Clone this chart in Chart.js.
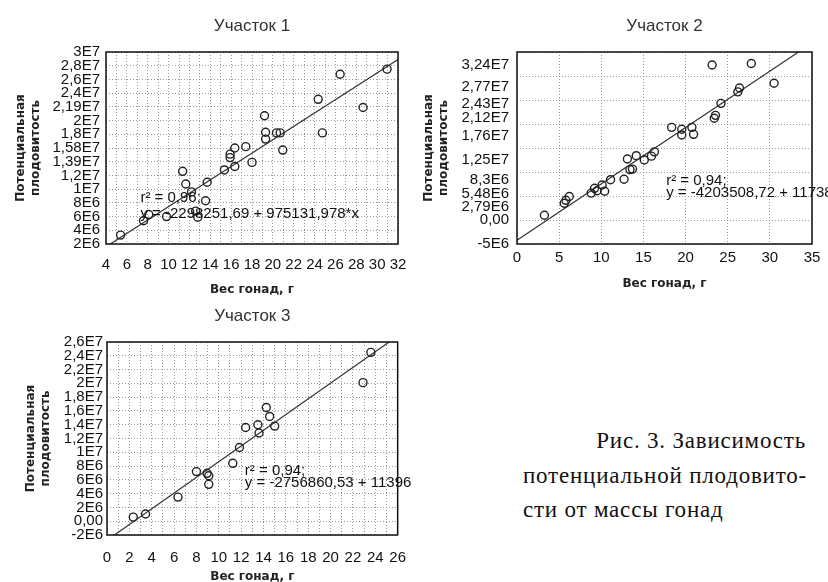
<!DOCTYPE html>
<html>
<head>
<meta charset="utf-8">
<script src="https://cdn.jsdelivr.net/npm/chart.js@4.4.1/dist/chart.umd.min.js"></script>
<style>
  body { margin: 0; background: #fff; width: 828px; height: 582px; position: relative; overflow: hidden; }
  canvas { position: absolute; }
  .cap { position: absolute; font-family: "Liberation Serif", "Times New Roman", serif; font-size: 23px; line-height: 26px; letter-spacing: 0.8px; color: #111; white-space: nowrap; }
</style>
</head>
<body>
<canvas id="c1" width="420" height="300" style="left:0;top:0"></canvas>
<canvas id="c2" width="408" height="300" style="left:420px;top:0"></canvas>
<canvas id="c3" width="420" height="300" style="left:0;top:290px"></canvas>

<div class="cap" style="left:590px;top:428px;width:216px;text-align:right">Рис. 3. Зависимость</div>
<div class="cap" style="left:523px;top:463px;width:283px;text-align:justify;text-align-last:justify">потенциальной плодовито-</div>
<div class="cap" style="left:523px;top:497px">сти от массы гонад</div>

<script>
// Участок 1
const x1 = [5.4, 7.6, 8.1, 9.8, 11.35, 11.65, 12.2, 12.6, 12.8, 13.55, 13.7, 15.35, 15.9, 15.9, 16.35, 16.35, 17.4, 18.0, 19.2, 19.3, 19.3, 20.35, 20.7, 20.95, 24.35, 24.75, 26.45, 28.65, 30.95];
const y1 = [3.3e6, 5.4e6, 6.3e6, 6.0e6, 12.6e6, 10.75e6, 9.6e6, 6.8e6, 5.9e6, 8.3e6, 11.0e6, 12.8e6, 15.1e6, 14.6e6, 16.0e6, 13.3e6, 16.2e6, 13.9e6, 20.7e6, 18.3e6, 17.3e6, 18.2e6, 18.2e6, 15.7e6, 23.1e6, 18.2e6, 26.75e6, 21.9e6, 27.5e6];
const fit1 = [-2298251.69, 975131.978]; // intercept, slope
const y1Ticks = ["2E6", "4E6", "6E6", "8E6", "1E7", "1,2E7", "1,39E7", "1,58E7", "1,8E7", "2E7", "2,19E7", "2,4E7", "2,6E7", "2,8E7", "3E7"];
const note1 = ["r\u00B2 = 0,96;", "y = -2298251,69 + 975131,978*x"];

// Участок 2
const x2 = [3.25, 5.6, 5.8, 6.2, 8.8, 9.2, 9.5, 10.1, 10.4, 11.1, 12.7, 13.1, 13.4, 13.7, 14.15, 15.1, 15.95, 16.3, 18.35, 19.55, 19.55, 20.75, 20.95, 23.15, 23.4, 23.55, 24.2, 26.2, 26.4, 27.8, 30.5];
const y2 = [1.0e6, 3.5e6, 4.1e6, 4.9e6, 5.6e6, 6.6e6, 6.1e6, 7.3e6, 6.0e6, 8.4e6, 8.5e6, 12.7e6, 10.5e6, 10.6e6, 13.4e6, 12.5e6, 13.3e6, 14.2e6, 19.3e6, 18.9e6, 17.7e6, 19.3e6, 17.85e6, 32.3e6, 21.2e6, 21.8e6, 24.3e6, 26.7e6, 27.5e6, 32.6e6, 28.5e6];
const fit2 = [-4203508.72, 1173800];
const y2TickVals = [-5e6, 0, 2.79e6, 5.48e6, 8.3e6, 1.25e7, 1.76e7, 2.12e7, 2.43e7, 2.77e7, 3.24e7];
const y2Ticks = ["-5E6", "0,00", "2,79E6", "5,48E6", "8,3E6", "1,25E7", "1,76E7", "2,12E7", "2,43E7", "2,77E7", "3,24E7"];
const note2 = ["r\u00B2 = 0,94;", "y = -4203508,72 + 11738"];

// Участок 3
const x3 = [2.35, 3.45, 6.35, 8.0, 8.95, 9.1, 9.1, 11.25, 11.85, 12.4, 13.5, 13.6, 14.25, 14.55, 15.0, 22.9, 23.6];
const y3 = [0.6e6, 1.05e6, 3.5e6, 7.2e6, 6.95e6, 6.6e6, 5.35e6, 8.4e6, 10.7e6, 13.6e6, 14.0e6, 12.8e6, 16.5e6, 15.2e6, 13.8e6, 20.1e6, 24.5e6];
const fit3 = [-2756860.53, 1139600];
const y3Ticks = ["-2E6", "0,00", "2E6", "4E6", "6E6", "8E6", "1E7", "1,2E7", "1,4E7", "1,6E7", "1,8E7", "2E7", "2,2E7", "2,4E7", "2,6E7"];
const note3 = ["r\u00B2 = 0,94;", "y = -2756860,53 + 11396"];

const xTitle = "Вес гонад, г";
const yTitle = ["Потенциальная", "плодовитость"];

const FONT = '"Liberation Sans", Arial, sans-serif';
const AXFONT = '"DejaVu Sans", Arial, sans-serif';
const DOTS = [1, 2];
const GRID = '#9a9a9a';

// box round the plot area
const frame = {
  id: 'frame',
  afterDraw(chart) {
    const { ctx, chartArea: a } = chart;
    ctx.save();
    ctx.strokeStyle = '#111';
    ctx.lineWidth = 1.5;
    ctx.strokeRect(a.left, a.top, a.right - a.left, a.bottom - a.top);
    ctx.restore();
  }
};

// r2 and equation text
const note = {
  id: 'note',
  afterDatasetsDraw(chart, args, opts) {
    const { ctx, scales } = chart;
    const px = scales.x.getPixelForValue(opts.atX);
    const py = scales.y.getPixelForValue(opts.atY);
    ctx.save();
    ctx.font = opts.textFont;
    ctx.fillStyle = '#111';
    ctx.textBaseline = 'middle';
    opts.lines.forEach((t, i) => ctx.fillText(t, px, py + i * opts.gap));
    ctx.restore();
  }
};

function points(xs, ys) {
  return xs.map((x, i) => ({ x: x, y: ys[i] }));
}

function fitLine(fit, xmin, xmax) {
  return [xmin, xmax].map(x => ({ x: x, y: fit[0] + fit[1] * x }));
}

function makeChart(id, o) {
  const scales = {
    x: {
      type: 'linear', min: o.xMin, max: o.xMax,
      afterFit: s => { s.height = o.xHeight; },
      grid: { color: GRID, lineWidth: 1, drawTicks: false },
      border: { display: false, dash: DOTS },
      ticks: {
        stepSize: o.xStep, autoSkip: false, maxRotation: 0, padding: o.xPad,
        color: '#111', font: { family: FONT, size: 15 },
        callback: v => (v % o.xLabelEvery === 0 ? String(v) : '')
      },
      title: {
        display: true, text: xTitle, color: '#222',
        font: { family: AXFONT, size: 12, weight: 'bold', lineHeight: 1.2 },
        padding: { top: 0, bottom: o.xTitlePad }
      }
    },
    y: {
      type: 'linear', min: o.yMin, max: o.yMax,
      afterFit: s => { s.width = o.yWidth; },
      grid: { display: !o.yTickVals, color: GRID, lineWidth: 1, drawTicks: false },
      border: { display: false, dash: DOTS },
      ticks: {
        stepSize: o.yStep, autoSkip: false, padding: o.yPad,
        color: '#111', font: { family: FONT, size: 15 },
        callback: (v, i) => o.yLabels[i]
      },
      title: {
        display: true, text: yTitle, color: '#222',
        font: { family: AXFONT, size: 12, weight: 'bold', lineHeight: 1.25 },
        padding: { top: o.yTitlePad, bottom: 0 }
      }
    }
  };
  if (o.yTickVals) {
    scales.y.afterBuildTicks = s => { s.ticks = o.yTickVals.map(v => ({ value: v })); };
    scales.yGrid = {
      type: 'linear', position: 'right', min: o.yMin, max: o.yMax,
      afterFit: s => { s.width = 0; },
      grid: { color: GRID, lineWidth: 1, drawTicks: false },
      border: { display: false, dash: DOTS },
      ticks: { display: false, stepSize: o.yStep }
    };
  }

  return new Chart(document.getElementById(id), {
    type: 'scatter',
    data: {
      datasets: [
        {
          data: points(o.xs, o.ys),
          pointStyle: 'circle', pointRadius: 4, pointBorderWidth: 1.4,
          borderColor: '#222', backgroundColor: 'rgba(0,0,0,0)'
        },
        {
          type: 'line',
          data: fitLine(o.fit, o.xMin, o.xMax),
          borderColor: '#333', borderWidth: 1.2, pointRadius: 0, fill: false
        }
      ]
    },
    options: {
      responsive: false,
      animation: false,
      layout: { padding: { left: 0, right: o.right, top: 0, bottom: 0 } },
      plugins: {
        legend: { display: false },
        tooltip: { enabled: false },
        title: {
          display: true, text: o.title, fullSize: false, color: '#333',
          font: { family: FONT, size: 17, weight: 'normal', lineHeight: 1.2 },
          padding: { top: 16, bottom: 15.6 }
        },
        note: { atX: o.noteX, atY: o.noteY, lines: o.note, gap: o.noteGap, textFont: '15px ' + FONT }
      },
      scales: scales
    },
    plugins: [frame, note]
  });
}

makeChart('c1', {
  title: 'Участок 1', xs: x1, ys: y1, fit: fit1,
  xMin: 4, xMax: 32, xStep: 1, xLabelEvery: 2,
  yMin: 2e6, yMax: 3e7, yStep: 2e6, yLabels: y1Ticks,
  yWidth: 106, xHeight: 56, right: 22,
  xPad: 12, yPad: 6, xTitlePad: 3, yTitlePad: 13,
  note: note1, noteX: 7.3, noteY: 8.8e6, noteGap: 16
});

makeChart('c2', {
  title: 'Участок 2', xs: x2, ys: y2, fit: fit2,
  xMin: 0, xMax: 35, xStep: 5, xLabelEvery: 5,
  yMin: -5e6, yMax: 3.5e7, yStep: 5e6, yLabels: y2Ticks, yTickVals: y2TickVals,
  yWidth: 97, xHeight: 56, right: 16,
  xPad: 5, yPad: 8, xTitlePad: 9, yTitlePad: 1,
  note: note2, noteX: 17.7, noteY: 8.1e6, noteGap: 12
});

makeChart('c3', {
  title: 'Участок 3', xs: x3, ys: y3, fit: fit3,
  xMin: 0, xMax: 26, xStep: 1, xLabelEvery: 2,
  yMin: -2e6, yMax: 2.6e7, yStep: 2e6, yLabels: y3Ticks,
  yWidth: 107, xHeight: 55, right: 21,
  xPad: 14, yPad: 4, xTitlePad: 6, yTitlePad: 23,
  note: note3, noteX: 12.33, noteY: 7.29e6, noteGap: 12
});
</script>
</body>
</html>
